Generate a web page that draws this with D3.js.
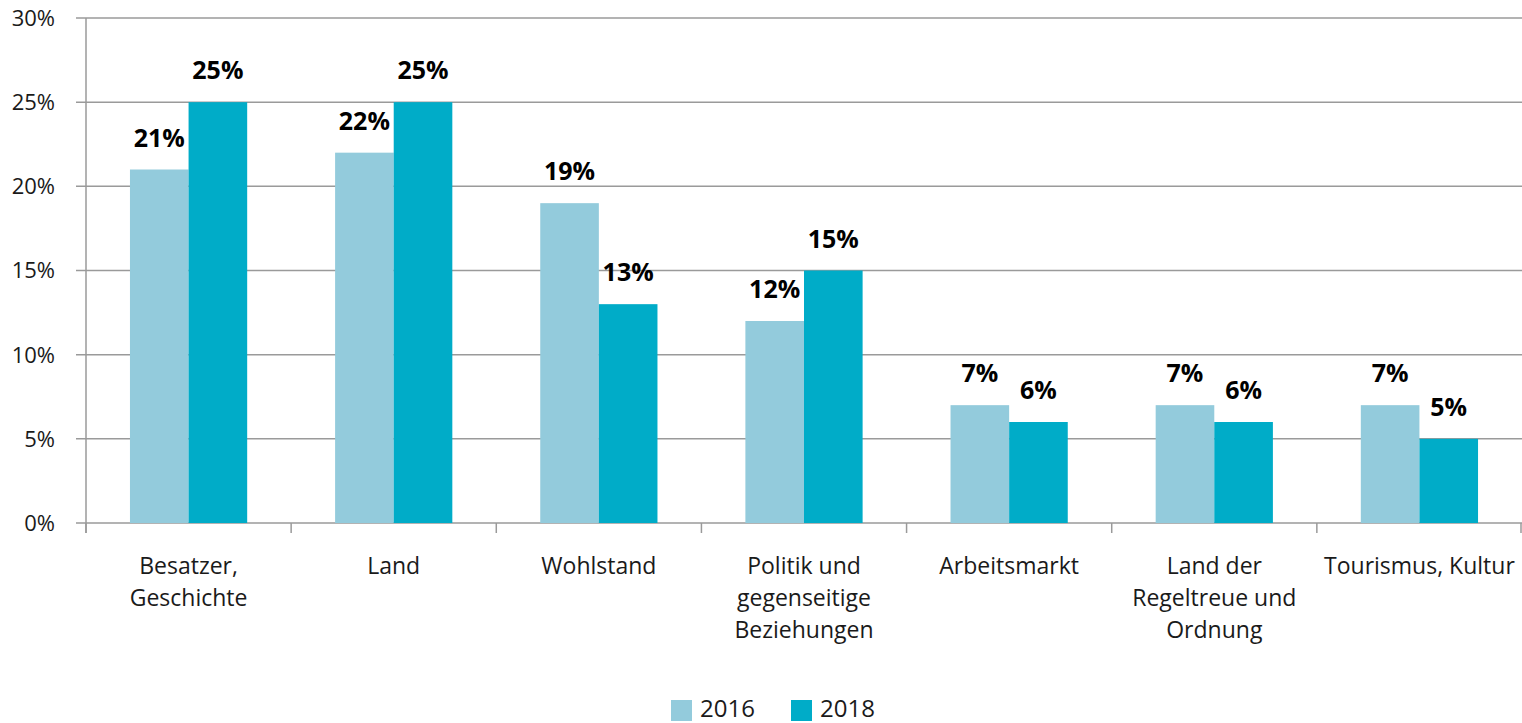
<!DOCTYPE html>
<html><head><meta charset="utf-8">
<script src="https://cdn.jsdelivr.net/npm/d3@7"></script>
<style>body{margin:0;background:#fff}svg{display:block}text{font-family:"Open Sans","Noto Sans",sans-serif}</style>
</head><body><svg id="c" width="1522" height="723"></svg>
<script>
const categories = [
  ["Besatzer,","Geschichte"],
  ["Land"],
  ["Wohlstand"],
  ["Politik und","gegenseitige","Beziehungen"],
  ["Arbeitsmarkt"],
  ["Land der","Regeltreue und","Ordnung"],
  ["Tourismus, Kultur"]
];
const series = ["2016","2018"];
const values2016 = [21,22,19,12,7,7,7];
const values2018 = [25,25,13,15,6,6,5];
const yTicks = [0,5,10,15,20,25,30];
const colors = ["#93CBDC","#00ACC8"];

const svg = d3.select("#c");
const m = {l:86, r:0, t:18, b:200};
const W = 1522, H = 723;
const x0 = d3.scaleBand().domain(d3.range(categories.length)).range([m.l, W]).paddingInner(0).paddingOuter(0);
const x1 = d3.scaleBand().domain(series).range([0, x0.bandwidth()]).paddingOuter(0.75).paddingInner(0);
const y = d3.scaleLinear().domain([0,30]).range([523, 18]);
const gridC = "#9a9a9a";

// gridlines
svg.append("g").selectAll("line").data(yTicks).join("line")
  .attr("x1", m.l-10).attr("x2", W).attr("y1", d=>y(d)).attr("y2", d=>y(d))
  .attr("stroke", gridC).attr("stroke-width", 1.5);
// y labels
svg.append("g").selectAll("text").data(yTicks).join("text")
  .attr("x", 55).attr("y", d=>y(d)).attr("dy","0.36em").attr("text-anchor","end")
  .attr("font-size", 22).attr("fill","#1a1a1a").text(d=>d+"%");
// y axis line
svg.append("line").attr("x1", m.l).attr("x2", m.l).attr("y1", y(30)).attr("y2", y(0)+10)
  .attr("stroke", gridC).attr("stroke-width", 1.5);
// x ticks
svg.append("g").selectAll("line").data(d3.range(categories.length+1)).join("line")
  .attr("x1", d=> d<categories.length ? x0(d) : W-1).attr("x2", d=> d<categories.length ? x0(d) : W-1)
  .attr("y1", y(0)).attr("y2", y(0)+10).attr("stroke", gridC).attr("stroke-width", 1.5);

const data = categories.map((c,i)=>({i, vals:[values2016[i], values2018[i]]}));
const groups = svg.append("g").selectAll("g").data(data).join("g")
  .attr("transform", d=>`translate(${x0(d.i)},0)`);
groups.selectAll("rect").data(d=>d.vals.map((v,k)=>({v,k}))).join("rect")
  .attr("x", d=>x1(series[d.k])).attr("width", x1.bandwidth())
  .attr("y", d=>y(d.v)).attr("height", d=>y(0)-y(d.v)).attr("fill", d=>colors[d.k]);
groups.selectAll("text.v").data(d=>d.vals.map((v,k)=>({v,k}))).join("text").attr("class","v")
  .attr("x", d=>x1(series[d.k])+x1.bandwidth()/2).attr("y", d=>y(d.v)-23)
  .attr("text-anchor","middle").attr("font-size", 25).attr("font-weight","bold").attr("fill","#000")
  .text(d=>d.v+"%");
// category labels
const cl = svg.append("g").selectAll("text").data(categories).join("text")
  .attr("text-anchor","middle").attr("font-size", 23).attr("fill","#1a1a1a")
  .attr("transform",(d,i)=>`translate(${x0(i)+x0.bandwidth()/2},574)`);
cl.selectAll("tspan").data(d=>d).join("tspan").attr("x",0).attr("y",(d,j)=>j*32).text(d=>d);

// legend
const lg = svg.append("g").attr("transform","translate(671,700)");
const items = lg.selectAll("g").data(series).join("g").attr("transform",(d,i)=>`translate(${i*120},0)`);
items.append("rect").attr("width",21).attr("height",21).attr("fill",(d,i)=>colors[i]);
items.append("text").attr("x",29).attr("y",17).attr("font-size",24).attr("fill","#1a1a1a").text(d=>d);
</script></body></html>
